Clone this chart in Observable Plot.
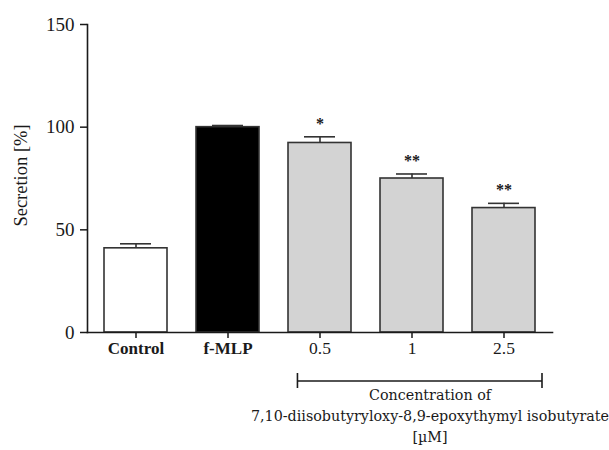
<!DOCTYPE html>
<html>
<head>
<meta charset="utf-8">
<script src="https://cdn.jsdelivr.net/npm/d3@7"></script>
<script src="https://cdn.jsdelivr.net/npm/@observablehq/plot@0.6"></script>
<style>
  html, body { margin: 0; padding: 0; background: white; }
</style>
</head>
<body>
<div id="chart"></div>
<script>
// Data
const categories = ["Control", "f-MLP", "0.5", "1", "2.5"];
const means = [41, 100, 92.3, 75, 60.6];
const sems = [2.2, 0.8, 3.0, 2.2, 2.3];
const stars = ["", "", "*", "**", "**"];
const groups = ["control", "stimulus", "treatment", "treatment", "treatment"];
const yTicks = [0, 50, 100, 150];
const yLabel = "Secretion [%]";
const bracketLines = ["Concentration of", "7,10-diisobutyryloxy-8,9-epoxythymyl isobutyrate", "[µM]"];
const bracketFrom = "0.5";
const bracketTo = "2.5";

const data = categories.map((c, i) => ({
  cat: c, mean: means[i], top: means[i] + sems[i], star: stars[i], group: groups[i]
}));

const ink = "#1a1a1a";
const serif = "'Liberation Serif', 'Times New Roman', serif";

const plot = Plot.plot({
  width: 609,
  height: 450,
  marginLeft: 87,
  marginRight: 57,
  marginTop: 24,
  marginBottom: 118,
  style: { fontFamily: serif, fontSize: "19px", background: "white", color: ink, overflow: "visible" },
  x: { domain: categories, paddingInner: 0.32, paddingOuter: 0.17, label: null },
  y: { domain: [0, 150], label: null },
  color: { domain: ["control", "stimulus", "treatment"], range: ["white", "black", "#d3d3d3"] },
  marks: [
    Plot.barY(data, { x: "cat", y: "mean", fill: "group", stroke: "#333", strokeWidth: 1.6 }),
    Plot.ruleX(data, { x: "cat", y1: "mean", y2: "top", stroke: "#333", strokeWidth: 1.6 }),
    Plot.tickY(data, { x: "cat", y: "top", stroke: "#333", strokeWidth: 1.6, insetLeft: 16, insetRight: 16 }),
    Plot.text(data, { x: "cat", y: "top", text: "star", dy: -13, fontSize: 16, fontWeight: "bold", fill: ink }),
    Plot.axisY({ ticks: yTicks, tickSize: 7, tickPadding: 6, fontSize: 19, label: null, stroke: ink, strokeWidth: 1.5 }),
    Plot.axisX({ tickSize: 6, text: null, label: null, stroke: ink, strokeWidth: 1.5 }),
    Plot.text(data, {
      filter: d => d.group !== "treatment",
      x: "cat", frameAnchor: "bottom", dy: 21, fontSize: 17, fill: ink, text: "cat", fontWeight: "bold"
    }),
    Plot.text(data, {
      filter: d => d.group === "treatment",
      x: "cat", frameAnchor: "bottom", dy: 21, fontSize: 17.5, fill: ink, text: "cat"
    }),
    Plot.frame({ anchor: "left", stroke: ink, strokeWidth: 1.6 }),
    Plot.frame({ anchor: "bottom", stroke: ink, strokeWidth: 1.6 }),
    Plot.text([yLabel], { frameAnchor: "left", textAnchor: "middle", rotate: -90, dx: -66, dy: -3, fontSize: 18.5, fill: ink }),
    Plot.text([bracketLines.join("\n")], {
      x: () => "1", frameAnchor: "bottom", lineAnchor: "top", dy: 53, dx: 18,
      fontSize: 14.3, lineHeight: 1.47, fontFamily: "'DejaVu Serif', serif", fill: ink
    })
  ]
});

document.getElementById("chart").appendChild(plot);

// Bracket spanning the treatment categories, positioned from Plot's own scales
const xs = plot.scale("x");
const ys = plot.scale("y");
const bw = xs.bandwidth;
const bx1 = xs.apply(bracketFrom) + bw * 0.15;
const bx2 = xs.apply(bracketTo) + bw + 7;
const by = ys.apply(0) + 49;
const g = d3.select(plot).append("g").attr("stroke", ink).attr("stroke-width", 1.6).attr("fill", "none");
g.append("line").attr("x1", bx1).attr("x2", bx2).attr("y1", by).attr("y2", by);
g.append("line").attr("x1", bx1).attr("x2", bx1).attr("y1", by - 8).attr("y2", by + 7);
g.append("line").attr("x1", bx2).attr("x2", bx2).attr("y1", by - 8).attr("y2", by + 7);
</script>
</body>
</html>
